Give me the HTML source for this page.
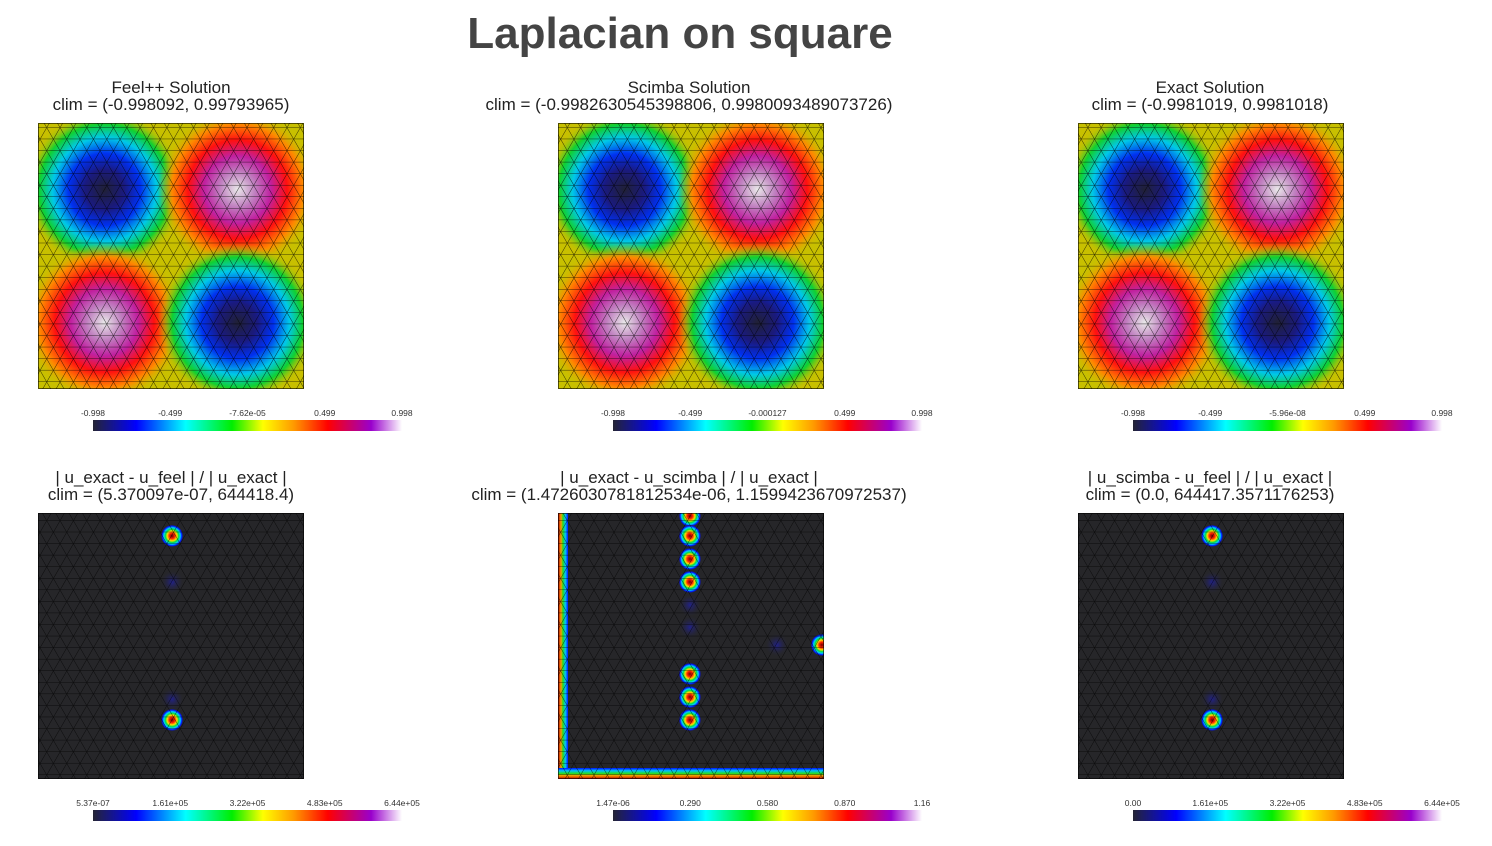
<!DOCTYPE html>
<html><head><meta charset="utf-8"><style>
body{margin:0;background:#fff;width:1492px;height:846px;overflow:hidden;font-family:"Liberation Sans",sans-serif;}
svg{display:block}
</style></head><body>
<svg id="fig" width="1492" height="846" xmlns="http://www.w3.org/2000/svg">
<defs>
<linearGradient id="cmap" x1="0" x2="1" y1="0" y2="0">
<stop offset="0" stop-color="#252535"/><stop offset="0.14" stop-color="#0000ff"/><stop offset="0.3" stop-color="#00ffff"/>
<stop offset="0.45" stop-color="#00ee00"/><stop offset="0.55" stop-color="#ffff00"/><stop offset="0.65" stop-color="#ff9900"/>
<stop offset="0.76" stop-color="#ff0000"/><stop offset="0.9" stop-color="#9900cc"/><stop offset="1" stop-color="#ffffff"/>
</linearGradient>
<radialGradient id="neg"><stop offset="0" stop-color="#202035"/><stop offset="0.25" stop-color="#1a1a80"/><stop offset="0.45" stop-color="#0030f0"/><stop offset="0.65" stop-color="#00c8e8"/><stop offset="0.82" stop-color="#10d030"/><stop offset="1" stop-color="#c8c000" stop-opacity="0"/></radialGradient>
<radialGradient id="pos"><stop offset="0" stop-color="#e8e8e8"/><stop offset="0.22" stop-color="#c080c0"/><stop offset="0.42" stop-color="#c020a0"/><stop offset="0.62" stop-color="#ff1010"/><stop offset="0.82" stop-color="#ff8800"/><stop offset="1" stop-color="#c8c000" stop-opacity="0"/></radialGradient>
<radialGradient id="spot"><stop offset="0" stop-color="#700000"/><stop offset="0.25" stop-color="#ff2000"/><stop offset="0.45" stop-color="#ffe000"/><stop offset="0.6" stop-color="#00e040"/><stop offset="0.75" stop-color="#00d0ff"/><stop offset="0.9" stop-color="#0010ff"/><stop offset="1" stop-color="#262629"/></radialGradient>
<radialGradient id="faint"><stop offset="0" stop-color="#2020a0" stop-opacity="0.8"/><stop offset="1" stop-color="#262629" stop-opacity="0"/></radialGradient>
<linearGradient id="edgeL" x1="0" x2="1"><stop offset="0" stop-color="#b00000"/><stop offset="0.3" stop-color="#ff9900"/><stop offset="0.5" stop-color="#20e020"/><stop offset="0.75" stop-color="#00c0ff"/><stop offset="1" stop-color="#0010ff"/></linearGradient>
<linearGradient id="edgeB" x1="0" x2="0" y1="1" y2="0"><stop offset="0" stop-color="#b00000"/><stop offset="0.3" stop-color="#ff9900"/><stop offset="0.5" stop-color="#20e020"/><stop offset="0.75" stop-color="#00c0ff"/><stop offset="1" stop-color="#0010ff"/></linearGradient>
<pattern id="h" width="20" height="11.56" patternUnits="userSpaceOnUse"><line x1="0" y1="0" x2="20" y2="0" stroke="#000" stroke-width="0.9"/></pattern>
<pattern id="d1" width="20" height="11.56" patternUnits="userSpaceOnUse" patternTransform="rotate(60)"><line x1="0" y1="0" x2="20" y2="0" stroke="#000" stroke-width="0.9"/></pattern>
<pattern id="d2" width="20" height="11.56" patternUnits="userSpaceOnUse" patternTransform="rotate(-60)"><line x1="0" y1="0" x2="20" y2="0" stroke="#000" stroke-width="0.9"/></pattern>
</defs>
<text x="680" y="48" text-anchor="middle" font-size="44" font-weight="bold" fill="#444">Laplacian on square</text>
</svg>
<script>
const NS="http://www.w3.org/2000/svg";
const svg=document.getElementById('fig');
// data
const panelTitles=[["Feel++ Solution","clim = (-0.998092, 0.99793965)"],["Scimba Solution","clim = (-0.9982630545398806, 0.9980093489073726)"],["Exact Solution","clim = (-0.9981019, 0.9981018)"],
["| u_exact - u_feel | / | u_exact |","clim = (5.370097e-07, 644418.4)"],["| u_exact - u_scimba | / | u_exact |","clim = (1.4726030781812534e-06, 1.1599423670972537)"],["| u_scimba - u_feel | / | u_exact |","clim = (0.0, 644417.3571176253)"]];
const tickLabels=[["-0.998","-0.499","-7.62e-05","0.499","0.998"],["-0.998","-0.499","-0.000127","0.499","0.998"],["-0.998","-0.499","-5.96e-08","0.499","0.998"],
["5.37e-07","1.61e+05","3.22e+05","4.83e+05","6.44e+05"],["1.47e-06","0.290","0.580","0.870","1.16"],["0.00","1.61e+05","3.22e+05","4.83e+05","6.44e+05"]];
// blob quadrants for solution panels
const blobCols=[0,1,0,1];
const blobRows=[0,0,1,1];
const blobSigns=[-1,1,1,-1];
// error spots: x,y fractions
const spotX=[[0.504,0.504],[0.496,0.496,0.496,0.496,0.496,0.496,0.496,0.992],[0.504,0.504]];
const spotY=[[0.086,0.778],[0.011,0.086,0.173,0.259,0.605,0.692,0.778,0.496],[0.086,0.778]];
const faintX=[[0.504,0.504],[0.496,0.823,0.496],[0.504,0.504]];
const faintY=[[0.26,0.70],[0.346,0.496,0.43],[0.26,0.70]];
const edgeStrip=[false,true,false];

const PX=[38,558,1078], PY=[123,513], S=266;
function el(t,a,p){const e=document.createElementNS(NS,t);for(const k in a)e.setAttribute(k,a[k]);(p||svg).appendChild(e);return e;}
for(let i=0;i<6;i++){
  const c=i%3,r=Math.floor(i/3),x=PX[c],y=PY[r];
  const g=el('g',{});
  
  
  const cx=x+S/2+ (c==0?0:c==1?-2:-1);
  const t1=el('text',{x:cx,y:y-30,'text-anchor':'middle','font-size':17,fill:'#222'},g);t1.textContent=panelTitles[i][0];
  
  
  const t2=el('text',{x:cx,y:y-13,'text-anchor':'middle','font-size':17,fill:'#222'},g);t2.textContent=panelTitles[i][1];
  
  
  const cp='clip'+i; const cpe=el('clipPath',{id:cp},g); el('rect',{x:x,y:y,width:S,height:S},cpe);
  const inner=el('g',{'clip-path':'url(#'+cp+')'},g);
  if(r==0){
    el('rect',{x:x,y:y,width:S,height:S,fill:'#c8c000'},inner);
    for(let b=0;b<blobCols.length;b++){
      const q=S/2, bx=x+blobCols[b]*q+q/2, by=y+blobRows[b]*q+q/2;
      const bl=el('circle',{cx:bx,cy:by,r:q*0.6,fill:blobSigns[b]<0?'url(#neg)':'url(#pos)'},inner);
      
      
    }
  } else {
    el('rect',{x:x,y:y,width:S,height:S,fill:'#262629'},inner);
    if(edgeStrip[c]){el('rect',{x:x,y:y,width:10,height:S,fill:'url(#edgeL)'},inner);el('rect',{x:x,y:y+S-11,width:S,height:11,fill:'url(#edgeB)'},inner);}
    for(let k=0;k<faintX[c].length;k++){const f=el('circle',{cx:x+faintX[c][k]*S,cy:y+faintY[c][k]*S,r:12,fill:'url(#faint)'},inner);
      
      }
    for(let k=0;k<spotX[c].length;k++){const s=el('circle',{cx:x+spotX[c][k]*S,cy:y+spotY[c][k]*S,r:11,fill:'url(#spot)'},inner);
      
      }
  }
  const m=el('g',{opacity:r?0.7:0.75},inner);
  
  
  ['h','d1','d2'].forEach(p=>el('rect',{x:x,y:y,width:S,height:S,fill:'url(#'+p+')'},m));
  el('rect',{x:x+0.5,y:y+0.5,width:S-1,height:S-1,fill:'none',stroke:'#000','stroke-width':1,opacity:0.6},g);
  // colorbar
  const bx=x+55,bw=309,by=y+297;
  const cb=el('rect',{x:bx,y:by,width:bw,height:11,fill:'url(#cmap)'},g);
  
  
  tickLabels[i].forEach((lb,k)=>{const tt=el('text',{x:bx+k*bw/(tickLabels[i].length-1),y:by-4,'text-anchor':'middle','font-size':8.5,fill:'#333'},g);tt.textContent=lb;
    
    });
}
</script>
</body></html>
